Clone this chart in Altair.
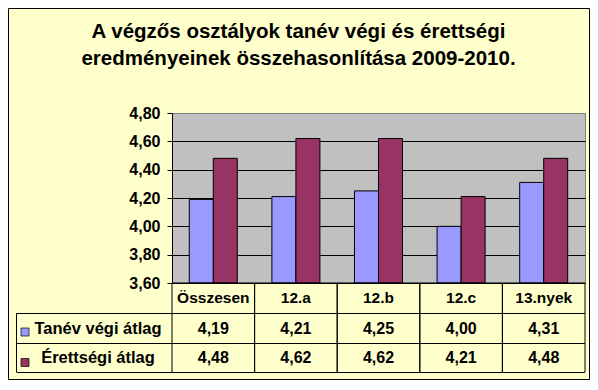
import altair as alt
import pandas as pd

title_lines = ["A végzős osztályok tanév végi és érettségi",
               "eredményeinek összehasonlítása 2009-2010."]
categories = ["Összesen", "12.a", "12.b", "12.c", "13.nyek"]
series = ["Tanév végi átlag", "Érettségi átlag"]
tanev = [4.19, 4.21, 4.25, 4.00, 4.31]
erettsegi = [4.48, 4.62, 4.62, 4.21, 4.48]
colors = ["#9999FF", "#993366"]
y_ticks = [3.6, 3.8, 4.0, 4.2, 4.4, 4.6, 4.8]

rows = []
for s, vals in zip(series, [tanev, erettsegi]):
    for c, v in zip(categories, vals):
        rows.append({"cat": c, "series": s, "value": v})
df = pd.DataFrame(rows)
cat_df = pd.DataFrame({"cat": categories})
ser_df = pd.DataFrame({"series": series})
one = pd.DataFrame({"k": [0]})

FONT = "Liberation Sans"
W, H = 413, 170
fmt = "replace(format(datum.value, '.2f'), '.', ',')"

xscale = alt.Scale(domain=categories, paddingInner=0, paddingOuter=0)
def xenc(bp=None):
    if bp is None:
        return alt.X("cat:N", scale=xscale, axis=None, sort=categories)
    return alt.X("cat:N", scale=xscale, axis=None, sort=categories, bandPosition=bp)

color_scale = alt.Scale(domain=series, range=colors)

bars = alt.Chart(df).mark_bar(stroke="black", strokeWidth=1).encode(
    x=xenc(),
    xOffset=alt.XOffset("series:N", sort=series,
                        scale=alt.Scale(paddingInner=0, paddingOuter=0.72)),
    y=alt.Y("value:Q",
            scale=alt.Scale(domain=[3.6, 4.8], nice=False, zero=False),
            axis=alt.Axis(values=y_ticks, labelExpr=fmt, title=None,
                          labelFont=FONT, labelFontSize=16, labelFontWeight="bold",
                          labelColor="black", labelPadding=7, tickSize=5,
                          tickColor="black", domainColor="black",
                          grid=True,
                          gridColor={"condition": {"test": "datum.value >= 4.79", "value": "#808080"},
                                     "value": "black"},
                          gridWidth=1, gridOpacity=1)),
    y2=alt.datum(3.6),
    color=alt.Color("series:N", scale=color_scale, legend=None),
)

txt = dict(font=FONT, fontWeight="bold", color="black", baseline="alphabetic", align="center")

header = alt.Chart(cat_df).mark_text(fontSize=15.5, **txt).encode(
    x=xenc(), y=alt.value(190), text="cat:N")

layers = [bars, header]

row_base = [221, 250]
sq_y = [219, 249.5]
for s, yb, sy in zip(series, row_base, sq_y):
    layers.append(
        alt.Chart(df).transform_filter(alt.datum.series == s)
        .transform_calculate(lbl=fmt)
        .mark_text(fontSize=16, **txt)
        .encode(x=xenc(), y=alt.value(yb), text="lbl:N"))
    layers.append(
        alt.Chart(one).mark_text(text=s, fontSize=16.5, **txt)
        .encode(x=alt.value(-74), y=alt.value(yb)))
    layers.append(
        alt.Chart(ser_df).transform_filter(alt.datum.series == s)
        .mark_square(size=64, filled=True, opacity=1, stroke="black", strokeWidth=0.7)
        .encode(x=alt.value(-147), y=alt.value(sy),
                color=alt.Color("series:N", scale=color_scale, legend=None)))

# table grid lines
for bp in (0, 1):
    layers.append(alt.Chart(cat_df).mark_rule(color="black", strokeWidth=1).encode(
        x=xenc(bp), y=alt.value(170), y2=alt.value(259)))
layers.append(alt.Chart(one).mark_rule(color="black", strokeWidth=1).encode(
    x=alt.value(-155.5), y=alt.value(200), y2=alt.value(259)))
for yy in (200.5, 230.5, 259.5):
    layers.append(alt.Chart(one).mark_rule(color="black", strokeWidth=1).encode(
        x=alt.value(-155.5), x2=alt.value(W), y=alt.value(yy)))
layers.append(alt.Chart(one).mark_rule(color="black", strokeWidth=1).encode(
    x=alt.value(0), x2=alt.value(W), y=alt.value(170)))

# title
for line, yb in zip(title_lines, (-75, -48)):
    layers.append(alt.Chart(one).mark_text(text=line, fontSize=20.5, **txt).encode(
        x=alt.value(126.5), y=alt.value(yb)))

# outer border
layers.append(alt.Chart(one).mark_rect(fillOpacity=0, stroke="black", strokeWidth=1).encode(
    x=alt.value(-163.5), x2=alt.value(417.5), y=alt.value(-104.5), y2=alt.value(266.5)))

chart = alt.layer(*layers).properties(
    width=W, height=H,
    autosize=alt.AutoSizeParams(type="none"),
    padding={"left": 164, "top": 105, "right": 5, "bottom": 97},
    background="#FFFFCC",
).configure_view(fill="#C0C0C0", stroke="#808080", strokeWidth=1)

chart.save("out.html", embed_options={"renderer": "svg", "actions": False})
